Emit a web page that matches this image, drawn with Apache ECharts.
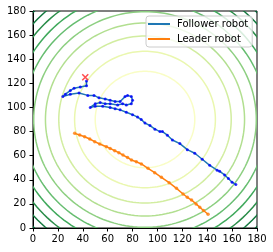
<!DOCTYPE html>
<html>
<head>
<meta charset="utf-8">
<script src="https://cdn.jsdelivr.net/npm/echarts@6/dist/echarts.min.js"></script>
<style>html,body{margin:0;padding:0;background:#fff}#c{width:273px;height:252px}</style>
</head>
<body>
<div id="c"></div>
<script>
// ---- data ----
const xTicks = [0, 20, 40, 60, 80, 100, 120, 140, 160, 180];
const yTicks = [0, 20, 40, 60, 80, 100, 120, 140, 160, 180];
const contourCenter = [90, 90];
const contourLevels = [1600, 3200, 4800, 6400, 8000, 9600, 11200, 12800, 14400, 16000];
const followerX = [43,43,38,33,30,26,24,30,37,44,49,53,58,62,66,70,74,76,79,80,79,75,72,68,62,58,54,50,46,50,56,62,66,70,75,80,84,87,90,94,98,102,104,108,112,118,124,130,136,142,148,150,154,157,160,163];
const followerY = [122,118,117,116,114,111,109,111,112,110,110,108,107,106,105,105,109,110,109,106,103,102,103,102,103,103,104,103,100,101,101,100,99,98,96,94,92,90,87,85,82,80,80,77,73,70,65,62,57,52,48,47,44,41,38,36];
const leaderX = [33.5,37.5,41.5,45.6,49.6,53.6,59,62,65.7,69,72.3,76,79.1,83,87.1,92.4,97.8,103.2,109.4,115.3,120.6,124,127.4,131,134,137,140.7];
const leaderY = [78.5,77.1,75.7,73.8,71.6,69.7,67.4,66,64.1,62.5,60.5,58.5,56.4,55,53.1,49.5,45.9,42,37.6,32.9,28.2,25.5,23.2,20,17.2,14.5,11.4];
const targetPoint = [42, 125];

// ---- styles ----
const contourColors = ['#f9fdc5','#eaf7af','#d2eda0','#b2df90','#8dcf81','#66bd70','#40a95c','#2a8d49','#12773d','#006134'];

const follower = followerX.map((x, i) => [x, followerY[i]]);
const leader = leaderX.map((x, i) => [x, leaderY[i]]);

const chart = echarts.init(document.getElementById('c'), null, {renderer: 'canvas'});

const axisCommon = {
  type: 'value', min: 0, max: 180, interval: 20,
  splitLine: {show: false},
  axisLine: {show: true, onZero: false, lineStyle: {color: '#000', width: 1}},
  axisTick: {show: true, length: 3.5, lineStyle: {color: '#000', width: 1}},
  axisLabel: {color: '#000', fontSize: 10, fontFamily: 'DejaVu Sans'}
};

chart.setOption({
  animation: false,
  grid: {left: 33, top: 11, width: 224, height: 217, show: true, borderColor: '#000', borderWidth: 1, backgroundColor: 'transparent'},
  xAxis: Object.assign({}, axisCommon, {
    axisLabel: Object.assign({}, axisCommon.axisLabel, {margin: 6, formatter: v => xTicks.includes(v) ? String(v) : ''})
  }),
  yAxis: Object.assign({}, axisCommon, {
    axisLabel: Object.assign({}, axisCommon.axisLabel, {margin: 7, formatter: v => yTicks.includes(v) ? String(v) : ''})
  }),
  legend: {
    data: ['Follower robot', 'Leader robot'],
    orient: 'vertical', left: 146, top: 16,
    icon: 'rect', itemWidth: 22, itemHeight: 2, itemGap: 3,
    padding: [2, 4, 2, 2],
    backgroundColor: 'rgba(255,255,255,0.8)', borderColor: '#cccccc', borderWidth: 1, borderRadius: 3,
    textStyle: {fontSize: 10, fontFamily: 'DejaVu Sans', color: '#000', lineHeight: 12, padding: [0, 0, 0, 2]}
  },
  series: [
    {
      type: 'custom', name: 'contours', clip: true, silent: true, z: 1,
      data: contourLevels.map((lv, i) => [contourCenter[0], contourCenter[1], lv, i]),
      encode: {x: 0, y: 1},
      renderItem: function (params, api) {
        const cx = api.value(0), cy = api.value(1);
        const r = Math.sqrt(api.value(2));
        const idx = api.value(3);
        const pts = [];
        for (let a = 0; a <= 360; a += 2) {
          const t = a * Math.PI / 180;
          pts.push(api.coord([cx + r * Math.cos(t), cy + r * Math.sin(t)]));
        }
        const cs = params.coordSys;
        return {
          type: 'polyline',
          shape: {points: pts},
          style: {stroke: contourColors[idx], fill: null, lineWidth: 1.5},
          clipPath: {type: 'rect', shape: {x: cs.x, y: cs.y, width: cs.width, height: cs.height}}
        };
      }
    },
    {
      type: 'line', name: 'Follower robot', data: follower, showSymbol: false, z: 3,
      itemStyle: {color: '#1f77b4'}, lineStyle: {color: '#1f77b4', width: 1.5}
    },
    {
      type: 'scatter', name: 'followerMarks', data: follower, symbol: 'circle', symbolSize: 3, z: 4,
      itemStyle: {color: '#0000ff'}
    },
    {
      type: 'line', name: 'Leader robot', data: leader, showSymbol: false, z: 3,
      itemStyle: {color: '#ff7f0e'}, lineStyle: {color: '#ff7f0e', width: 1.5}
    },
    {
      type: 'scatter', name: 'leaderMarks', data: leader, symbol: 'circle', symbolSize: 3.5, z: 4,
      itemStyle: {color: '#ff7f0e'}
    },
    {
      type: 'scatter', name: 'target', data: [targetPoint], z: 5,
      symbol: 'path://M0,0L10,10M10,0L0,10', symbolSize: 6,
      itemStyle: {color: 'rgba(0,0,0,0)', borderColor: '#ff2020', borderWidth: 1.5}
    }
  ]
});
</script>
</body>
</html>
